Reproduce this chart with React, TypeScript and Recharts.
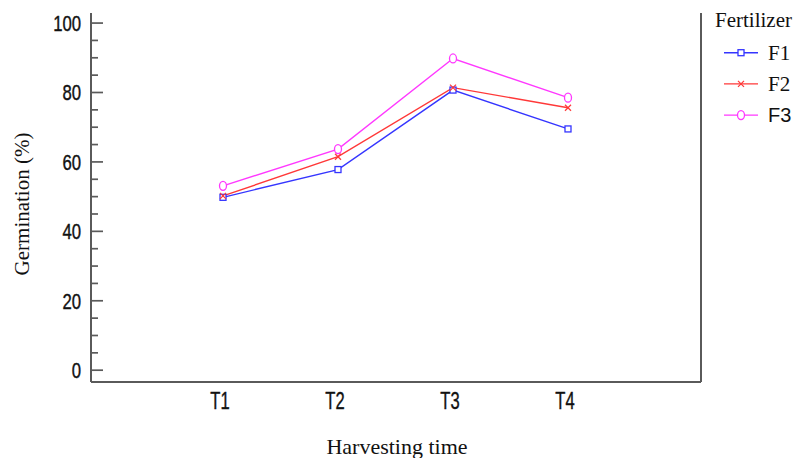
import React from "react";
import { LineChart, Line, XAxis, YAxis } from "recharts";

// harvesting times and germination % per fertilizer
const times = ["T1", "T2", "T3", "T4"];
const f1 = [49.8, 57.8, 80.7, 69.5];
const f2 = [50.2, 61.5, 81.4, 75.6];
const f3 = [53.1, 63.7, 89.8, 78.5];
const yTicks = [0, 5, 10, 15, 20, 25, 30, 35, 40, 45, 50, 55, 60, 65, 70, 75, 80, 85, 90, 95, 100];
const yLabels = [0, 20, 40, 60, 80, 100];

const data = times.map((t, i) => ({ time: t, F1: f1[i], F2: f2[i], F3: f3[i] }));

const AXIS = "#5a5a5a";
const BLUE = "#3535ff";
const RED = "#ff3838";
const MAGENTA = "#ff38ff";
const narrow = "'Liberation Sans', Arial, sans-serif";
const serif = "'Liberation Serif', 'Times New Roman', serif";

const Square = ({ cx, cy, color }: any) => (
  <rect x={cx - 3} y={cy - 3} width={6} height={6} fill="#fff" stroke={color} strokeWidth={1.3} />
);
const Cross = ({ cx, cy, color }: any) => (
  <g stroke={color} strokeWidth={1.2}>
    <line x1={cx - 3} y1={cy - 3} x2={cx + 3} y2={cy + 3} />
    <line x1={cx - 3} y1={cy + 3} x2={cx + 3} y2={cy - 3} />
  </g>
);
const Diamond = ({ cx, cy, color }: any) => (
  <ellipse cx={cx} cy={cy} rx={3.5} ry={4.5} fill="#fff" stroke={color} strokeWidth={1.3} />
);

// left ticks: marks point inward, labels only every 20
const LeftTick = ({ x, y, payload }: any) => {
  const ax = x; // tickSize 0, tickMargin 0 -> x is the axis line
  const major = yLabels.includes(payload.value);
  return (
    <g>
      <line x1={ax} x2={ax + (major ? 12 : 7)} y1={y} y2={y} stroke={AXIS} strokeWidth={1.7} />
      {major && (
        <text
          transform={`translate(${ax - 10},${y + 8}) scale(0.76,1)`}
          textAnchor="end"
          fontSize={22}
          fontFamily={narrow}
          fill="#111"
          stroke="#111"
          strokeWidth={0.4}
        >
          {payload.value}
        </text>
      )}
    </g>
  );
};

const RightTick = ({ x, y, payload }: any) => {
  const major = yLabels.includes(payload.value);
  return <line x1={x} x2={x - (major ? 12 : 7)} y1={y} y2={y} stroke={AXIS} strokeWidth={1.7} />;
};

const BottomTick = ({ x, y, payload }: any) => (
  <text
    transform={`translate(${x - 3},${y + 27}) scale(0.72,1)`}
    textAnchor="middle"
    fontSize={23}
    fontFamily={narrow}
    fill="#111"
    stroke="#111"
    strokeWidth={0.4}
  >
    {payload.value}
  </text>
);

const legendRows = [
  { name: "F1", color: BLUE, Mark: Square, font: serif, size: 21 },
  { name: "F2", color: RED, Mark: Cross, font: serif, size: 21 },
  { name: "F3", color: MAGENTA, Mark: Diamond, font: narrow, size: 20 },
];

export default function App() {
  return (
    <div style={{ position: "absolute", left: 0, top: 0, width: 800, height: 458, background: "#fff" }}>
      <LineChart width={800} height={458} data={data} margin={{ top: 13, right: 89, bottom: 46, left: 31 }}>
        <XAxis
          dataKey="time"
          padding={{ left: 132, right: 133 }}
          tickLine={false}
          tickSize={0}
          tickMargin={0}
          height={30}
          tick={<BottomTick />}
          axisLine={{ stroke: AXIS, strokeWidth: 2 }}
        />
        <XAxis
          xAxisId="top"
          orientation="top"
          dataKey="time"
          padding={{ left: 132, right: 133 }}
          height={0}
          tick={false}
          tickLine={false}
          axisLine={{ stroke: AXIS, strokeWidth: 2 }}
        />
        <YAxis
          domain={[-3.4, 102.9]}
          ticks={yTicks}
          interval={0}
          width={60}
          tickLine={false}
          tickSize={0}
          tickMargin={0}
          tick={<LeftTick />}
          axisLine={{ stroke: AXIS, strokeWidth: 2 }}
        />
        <YAxis
          yAxisId="right"
          orientation="right"
          domain={[-3.4, 102.9]}
          ticks={yTicks}
          interval={0}
          width={10}
          tickLine={false}
          tickSize={0}
          tickMargin={0}
          tick={<RightTick />}
          axisLine={{ stroke: AXIS, strokeWidth: 2 }}
        />
        <Line
          dataKey="F1"
          stroke={BLUE}
          strokeWidth={1.4}
          isAnimationActive={false}
          dot={(p: any) => <Square key={`f1-${p.index}`} cx={p.cx} cy={p.cy} color={BLUE} />}
        />
        <Line
          dataKey="F2"
          stroke={RED}
          strokeWidth={1.4}
          isAnimationActive={false}
          dot={(p: any) => <Cross key={`f2-${p.index}`} cx={p.cx} cy={p.cy} color={RED} />}
        />
        <Line
          dataKey="F3"
          stroke={MAGENTA}
          strokeWidth={1.4}
          isAnimationActive={false}
          dot={(p: any) => <Diamond key={`f3-${p.index}`} cx={p.cx} cy={p.cy} color={MAGENTA} />}
        />

        {/* axis titles */}
        <text x={397} y={454} textAnchor="middle" fontSize={22} fontFamily={serif} fill="#111">
          Harvesting time
        </text>
        <text
          transform="translate(29,204) rotate(-90)"
          textAnchor="middle"
          fontSize={21}
          fontFamily={serif}
          fill="#111"
        >
          Germination (%)
        </text>

        {/* legend */}
        <text x={715} y={27} fontSize={21} fontFamily={serif} fill="#111">
          Fertilizer
        </text>
        {legendRows.map((r, i) => {
          const cy = 52.7 + i * 31.2;
          const M = r.Mark;
          return (
            <g key={r.name}>
              <line x1={724} x2={758} y1={cy} y2={cy} stroke={r.color} strokeWidth={1.4} />
              <M cx={741} cy={cy} color={r.color} />
              <text x={768} y={cy + 7} fontSize={r.size} fontFamily={r.font} fill="#111">
                {r.name}
              </text>
            </g>
          );
        })}
      </LineChart>
    </div>
  );
}
